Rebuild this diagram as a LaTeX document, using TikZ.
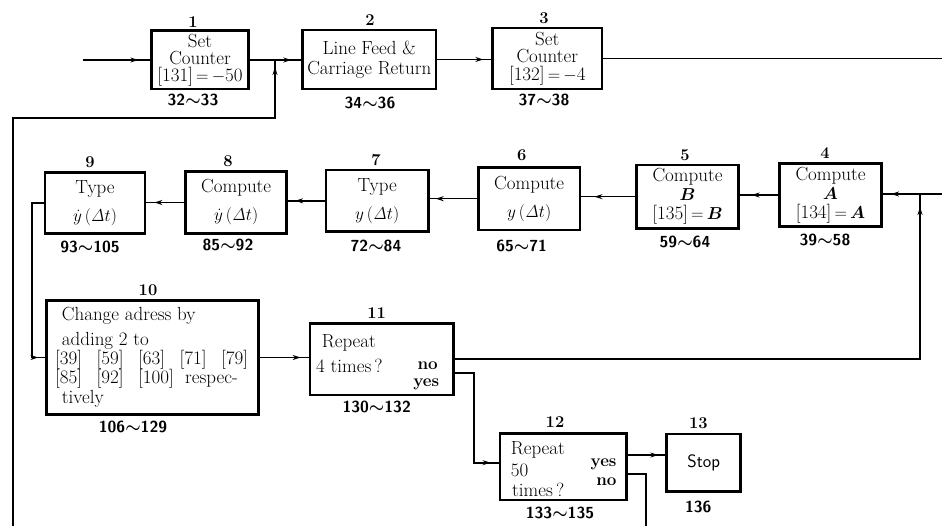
\documentclass[tikz,border=0pt]{standalone}
\usepackage{bm}
\usetikzlibrary{arrows.meta,decorations.markings}
\newcommand{\rng}[2]{#1{\boldmath$\sim$}#2}
\begin{document}
\begin{tikzpicture}[x=1pt,y=-1pt,
  box/.style={draw, line width=2.7pt, inner sep=0pt, align=center, font=\fontsize{19}{18}\selectfont},
  num/.style={font=\bfseries\fontsize{16.5}{16}\selectfont, inner sep=0pt},
  rnge/.style={font=\sffamily\bfseries\fontsize{16}{16}\selectfont, inner sep=0pt},
  txt/.style={font=\fontsize{19}{20}\selectfont, inner sep=0pt, anchor=base west},
  txtr/.style={font=\bfseries\fontsize{17}{18}\selectfont, inner sep=0pt, anchor=base east},
  wire/.style={line width=1.6pt},
  flow/.style={wire, postaction={decorate}, decoration={markings, mark=at position -#1 with {\arrow{Stealth[length=8pt,width=5pt]}}}},
  flow/.default=9pt]
\useasboundingbox (0,0) rectangle (942,526);

% ---- boxes, row 1
\node[box, minimum width=96.6pt, minimum height=58.3pt, font=\fontsize{19}{17}\selectfont] (b1) at (200,60) {Set\\Counter\\{[131]}\,$=$\,$-$50};
\node[box, minimum width=133.3pt, minimum height=59pt, font=\fontsize{19}{20}\selectfont] (b2) at (369.3,59.5) {Line Feed \&\\Carriage Return};
\node[box, minimum width=109.3pt, minimum height=61pt, font=\fontsize{19}{17.5}\selectfont] (b3) at (547.3,58.5) {Set\\Counter\\{[132]}\,$=$\,$-$4};
% ---- row 2
\node[box, minimum width=102.4pt, minimum height=63.4pt, font=\fontsize{19}{19}\selectfont] (b4) at (830.5,195) {Compute\\$\bm{A}$\\{[134]}\,$=$\,$\bm{A}$};
\node[box, minimum width=101.6pt, minimum height=63.3pt, font=\fontsize{19}{19}\selectfont] (b5) at (687.5,196.7) {Compute\\$\bm{B}$\\{[135]}\,$=$\,$\bm{B}$};
\node[box, minimum width=101.7pt, minimum height=62.7pt, font=\fontsize{19}{28}\selectfont] (b6) at (529.2,198.7) {Compute\\$y\,(\mathit{\Delta}t)$};
\node[box, minimum width=102.3pt, minimum height=61.7pt, font=\fontsize{19}{28}\selectfont] (b7) at (377.2,200.8) {Type\\$y\,(\mathit{\Delta}t)$};
\node[box, minimum width=101pt, minimum height=61.6pt, font=\fontsize{19}{28}\selectfont] (b8) at (236.2,202.5) {Compute\\$\dot y\,(\mathit{\Delta}t)$};
\node[box, minimum width=100pt, minimum height=60.6pt, font=\fontsize{19}{28}\selectfont] (b9) at (95,203) {Type\\$\dot y\,(\mathit{\Delta}t)$};
% ---- row 3
\node[box, minimum width=211.6pt, minimum height=113.3pt] (b10) at (152.5,357.5) {};
\node[box, minimum width=143.3pt, minimum height=71.7pt] (b11) at (381.7,359.2) {};
\node[box, minimum width=126.7pt, minimum height=66.7pt] (b12) at (563.3,466.7) {};
\node[box, minimum width=74pt, minimum height=57.7pt, font=\sffamily\fontsize{18}{18}\selectfont] (b13) at (703.7,462.8) {Stop};

% ---- texts inside boxes 10, 11, 12
\node[txt] (t10a) at (61.7,321) {Change adress by};
\node[txt] (t10b) at (61.7,346) {adding 2 to};
\node[txt] (t10c) at (55,365) {\makebox[41.5pt][l]{[39]}\makebox[41.5pt][l]{[59]}\makebox[41.5pt][l]{[63]}\makebox[41.5pt][l]{[71]}[79]};
\node[txt] (t10d) at (55,383) {\makebox[41.5pt][l]{[85]}\makebox[41.5pt][l]{[92]}\makebox[47pt][l]{[100]}respec-};
\node[txt] (t10e) at (61.7,403) {tively};
\node[txt] (t11a) at (321.7,348) {Repeat};
\node[txt] (t11b) at (316,373) {4 times\,?};
\node[txtr] (t11n) at (438,370) {no};
\node[txtr] (t11y) at (439.3,386) {yes};
\node[txt] (t12a) at (510.7,454.3) {Repeat};
\node[txt] (t12b) at (510.7,476.7) {50};
\node[txt] (t12c) at (512,496) {times\,?};
\node[txtr] (t12y) at (616.7,466.7) {yes};
\node[txtr] (t12n) at (616.7,485) {no};

% ---- numbers above boxes
\node[num] (n1) at (193,21.7) {1};
\node[num] (n2) at (370,20) {2};
\node[num] (n3) at (544,18) {3};
\node[num] (n4) at (825,153) {4};
\node[num] (n5) at (685,155) {5};
\node[num] (n6) at (521.7,155) {6};
\node[num] (n7) at (376,160) {7};
\node[num] (n8) at (228,161) {8};
\node[num] (n9) at (90,161.7) {9};
\node[num] (n10) at (148,290) {10};
\node[num] (n11) at (376.7,313) {11};
\node[num] (n12) at (555,421.7) {12};
\node[num] (n13) at (698.3,422.7) {13};

% ---- address ranges below boxes
\node[rnge] (r1) at (193,100) {\rng{32}{33}};
\node[rnge] (r2) at (370,103) {\rng{34}{36}};
\node[rnge] (r3) at (544,100) {\rng{37}{38}};
\node[rnge] (r4) at (825,240) {\rng{39}{58}};
\node[rnge] (r5) at (685,241.7) {\rng{59}{64}};
\node[rnge] (r6) at (521.7,246) {\rng{65}{71}};
\node[rnge] (r7) at (376,246) {\rng{72}{84}};
\node[rnge] (r8) at (228,245) {\rng{85}{92}};
\node[rnge] (r9) at (90,246.7) {\rng{93}{105}};
\node[rnge] (r10) at (133,426.7) {\rng{106}{129}};
\node[rnge] (r11) at (376.7,406.7) {\rng{130}{132}};
\node[rnge] (r12) at (560,512.7) {\rng{133}{135}};
\node[rnge] (r13) at (698.3,507.3) {136};

% ---- free ends and junctions
\coordinate (in1) at (83,60);
\coordinate (fb) at (13,526);
\coordinate (j1) at (275,60);
\coordinate (out3) at (942,58);
\coordinate (in4) at (942,194);
\coordinate (j4) at (920,194);
\coordinate (out12) at (645.7,526);

% ---- connectors
\draw[flow=12pt] (in1) -- (in1 -| b1.west);
\draw[flow=10pt] (b1.east) -- (b1.east -| b2.west);
\draw[flow=7pt] (fb) -- (13,118) -| (j1);
\draw[flow=8pt] (b2.east) -- (b2.east -| b3.west);
\draw[wire] (b3.east) -- (b3.east -| out3);
\draw[flow=8pt] (in4) -- (in4 -| b4.east);
\draw[flow=12pt] (b4.west) -- (b4.west -| b5.east);
\draw[flow=13pt] (b5.west) -- (b5.west -| b6.east);
\draw[flow=6pt] (b6.west) -- (b6.west -| b7.east);
\draw[flow=7pt] (b7.west) -- (b7.west -| b8.east);
\draw[flow=8pt] (b8.west) -- (b8.west -| b9.east);
\draw[flow=7pt] (b9.west) -- (31.7,203) |- (b10.west);
\draw[flow=8pt] (b10.east) -- (b10.east -| b11.west);
\draw[flow=13pt] (b11.east) -| (j4);
\draw[flow=8pt] ([yshift=-13.5pt]b11.east) -- (474,372.7) |- ([yshift=4pt]b12.west);
\draw[flow=7pt] ([yshift=11.7pt]b12.east) -- ([yshift=11.7pt]b12.east -| b13.west);
\draw[wire] ([yshift=-7.3pt]b12.east) -| (out12);
\end{tikzpicture}
\end{document}
